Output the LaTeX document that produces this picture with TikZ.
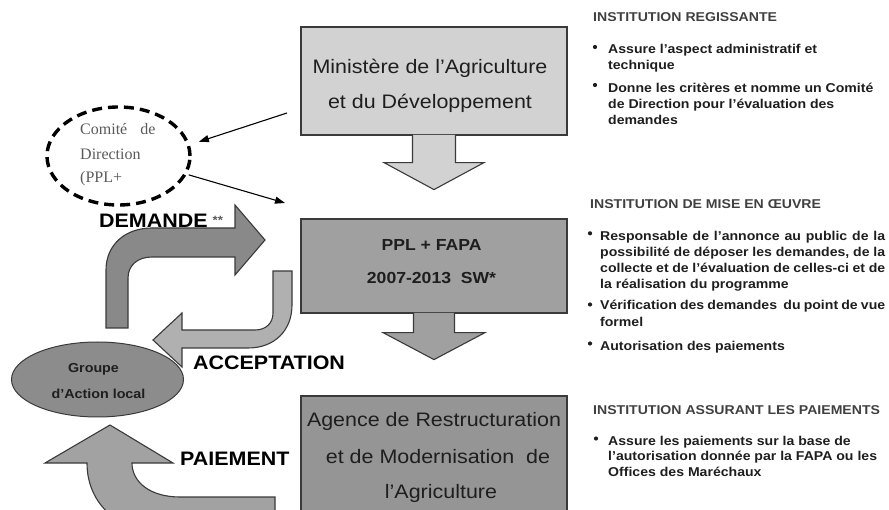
\documentclass[tikz,border=0pt]{standalone}
\usepackage{fontspec}
\usetikzlibrary{arrows.meta,calc,shapes.geometric}
\newfontfamily\af[FakeStretch=1.1]{Liberation Sans}
\newfontfamily\serf{Liberation Serif}
\definecolor{edge}{HTML}{3A3A3A}
\definecolor{gA}{HTML}{D2D2D2}
\definecolor{gB}{HTML}{A0A0A0}
\definecolor{gC}{HTML}{959595}
\definecolor{gDem}{HTML}{898989}
\definecolor{gAcc}{HTML}{B0B0B0}
\definecolor{gPai}{HTML}{A2A2A2}
\definecolor{gGal}{HTML}{8C8C8C}
\definecolor{txt}{HTML}{1E1E1E}
\definecolor{ctxt}{HTML}{5A5A5A}
\begin{document}
\begin{tikzpicture}[x=1pt,y=-1pt,
  box/.style={draw=edge, line width=1.2pt, inner sep=0pt, minimum width=266pt},
  blockarrow/.style={draw=edge, line width=1.1pt, line join=miter},
  btxt/.style={font=\af\fontsize{19.5}{22}\selectfont, text=txt, anchor=base, inner sep=0pt},
  bbold/.style={font=\af\bfseries\fontsize{16}{18}\selectfont, text=txt, anchor=base, inner sep=0pt},
  lbl/.style={font=\af\bfseries\fontsize{19.5}{22}\selectfont, text=black, anchor=base west, inner sep=0pt},
  head/.style={font=\af\bfseries\fontsize{12.8}{15}\selectfont, text=txt!85!white, anchor=base west, inner sep=0pt},
  body/.style={font=\af\bfseries\fontsize{12.8}{15}\selectfont, text=txt, anchor=base west, inner sep=0pt},
  dot/.style={fill=txt},
  conn/.style={draw=black, line width=1.1pt, -{Triangle[length=10pt,width=7pt]}},
  ctext/.style={font=\serf\fontsize{16}{18}\selectfont, text=ctxt, anchor=base west, inner sep=0pt},
  gtext/.style={font=\af\bfseries\fontsize{13}{15}\selectfont, text=txt, anchor=base, inner sep=0pt}]
\useasboundingbox (0,0) rectangle (889,510);
\clip (0,0) rectangle (889,510);

% main boxes
\node[box, fill=gA, minimum height=108pt] (b1) at (434,81) {};
\node[box, fill=gB, minimum height=94pt] (b2) at (434,266) {};
\node[box, fill=gC, minimum height=128pt] (b3) at (434,460) {};

% down arrows
\filldraw[blockarrow, fill=gA]
  ($(b1.south)+(-21.5,-0.7)$) -- ($(b1.south)+(-21.5,27)$) -- ($(b1.south)+(-50,27)$)
  -- ($(b1.south)+(0,54)$) -- ($(b1.south)+(50,27)$) -- ($(b1.south)+(21.5,27)$)
  -- ($(b1.south)+(21.5,-0.7)$);
\filldraw[blockarrow, fill=gB]
  ($(b2.south)+(-20.5,-0.7)$) -- ($(b2.south)+(-20.5,19)$) -- ($(b2.south)+(-51,19)$)
  -- ($(b2.south)+(0,46)$) -- ($(b2.south)+(51,19)$) -- ($(b2.south)+(20.5,19)$)
  -- ($(b2.south)+(20.5,-0.7)$);

% box texts
\node[btxt] (t1a) at (430,74) {Ministère de l’Agriculture};
\node[btxt] (t1b) at (430,109) {et du Développement};
\node[bbold] (t2a) at (431.5,250.5) {PPL + FAPA};
\node[bbold] (t2b) at (431.5,283.3) {2007-2013\ \ SW*};
\node[btxt] (t3a) at (434,426.7) {Agence de Restructuration};
\node[btxt] (t3b) at (438,463) {et de Modernisation\ \ de};
\node[btxt] (t3c) at (441,498) {l’Agriculture};

% comite
\node[ellipse, draw=black, line width=3.4pt, dash pattern=on 10pt off 6pt,
      minimum width=143pt, minimum height=98pt, inner sep=0pt] (com) at (118.5,156) {};
\node[ctext] (com1) at (80,135) {Comité\hspace{13pt}de};
\node[ctext] (com2) at (80,160) {Direction};
\node[ctext] (com3) at (80,182.5) {(PPL+};
\coordinate (c1) at (287,113);
\coordinate (c2) at (285,203);
\draw[conn, shorten >=9.5pt] (c1) -- (com.9);
\draw[conn, shorten <=2pt] (com.-15) -- (c2);

% curved block arrows
\draw[blockarrow, fill=gDem] (106,328) -- (106,270) .. controls (106,245) and (125,228) .. (152,228)
  -- (235,228) -- (235,205) -- (265,240) -- (235,275) -- (235,257) -- (152,257)
  .. controls (138,257) and (128,265) .. (128,278) -- (128,328) -- cycle;
\draw[blockarrow, fill=gAcc] (273,271) -- (292,271) -- (292,305) .. controls (292,330) and (275,348) .. (248,348)
  -- (182,348) -- (182,367) -- (153,340) -- (182,313) -- (182,330) -- (255,330)
  .. controls (266,330) and (273,323) .. (273,313) -- cycle;
\draw[blockarrow, fill=gPai] (110,425) -- (173,463) -- (132,463) .. controls (132,482) and (150,497) .. (180,497)
  -- (275,497) -- (275,535) -- (175,535) .. controls (120,535) and (87,505) .. (87,463)
  -- (45,463) -- cycle;

% groupe
\node[ellipse, draw=edge, fill=gGal, line width=1pt, minimum width=172pt, minimum height=75pt, inner sep=0pt] (gal) at (97.5,379.5) {};
\node[gtext] (gal1) at (93.5,372.7) {Groupe};
\node[gtext] (gal2) at (98.5,398.3) {d’Action local};

% labels
\node[lbl] (ldem) at (99,227.3) {DEMANDE\hspace{5pt}\raisebox{3pt}{\textcolor{ctxt}{\fontsize{12}{12}\selectfont **}}};
\node[lbl] (lacc) at (193,370) {ACCEPTATION};
\node[lbl] (lpai) at (180,465) {PAIEMENT};

% right column, section 1
\node[head] (h1) at (593,21.7) {INSTITUTION REGISSANTE};
\fill[dot] (595,47) circle (2.1pt);
\fill[dot] (595,85) circle (2.1pt);
\node[body] (s1a) at (608,53.3) {Assure l’aspect administratif et};
\node[body] (s1b) at (608,69.5) {technique};
\node[body] (s1c) at (608,92.5) {Donne les critères et nomme un Comité};
\node[body] (s1d) at (608,108.3) {de Direction pour l’évaluation des};
\node[body] (s1e) at (608,124.3) {demandes};

% section 2
\node[head] (h2) at (590,209) {INSTITUTION DE MISE EN ŒUVRE};
\fill[dot] (590,233.3) circle (2.1pt);
\fill[dot] (590,304.5) circle (2.1pt);
\fill[dot] (590,343.5) circle (2.1pt);
\node[body] (s2a) at (600,240.7) {\makebox[285pt][s]{Responsable de l’annonce au public de la}};
\node[body] (s2b) at (600,257) {\makebox[285pt][s]{possibilité de déposer les demandes, de la}};
\node[body] (s2c) at (600,273) {\makebox[285pt][s]{collecte et de l’évaluation de celles-ci et de}};
\node[body] (s2d) at (600,289) {la réalisation du programme};
\node[body] (s2e) at (600,310) {\makebox[285pt][s]{Vérification des demandes\ \ du point de vue}};
\node[body] (s2f) at (600,327) {formel};
\node[body] (s2g) at (600,351) {Autorisation des paiements};

% section 3
\node[head] (h3) at (593,414) {INSTITUTION ASSURANT LES PAIEMENTS};
\fill[dot] (596,438.5) circle (2.1pt);
\node[body] (s3a) at (608,446) {Assure les paiements sur la base de};
\node[body] (s3b) at (608,460.7) {l’autorisation donnée par la FAPA ou les};
\node[body] (s3c) at (608,476.7) {Offices des Maréchaux};
\end{tikzpicture}
\end{document}
